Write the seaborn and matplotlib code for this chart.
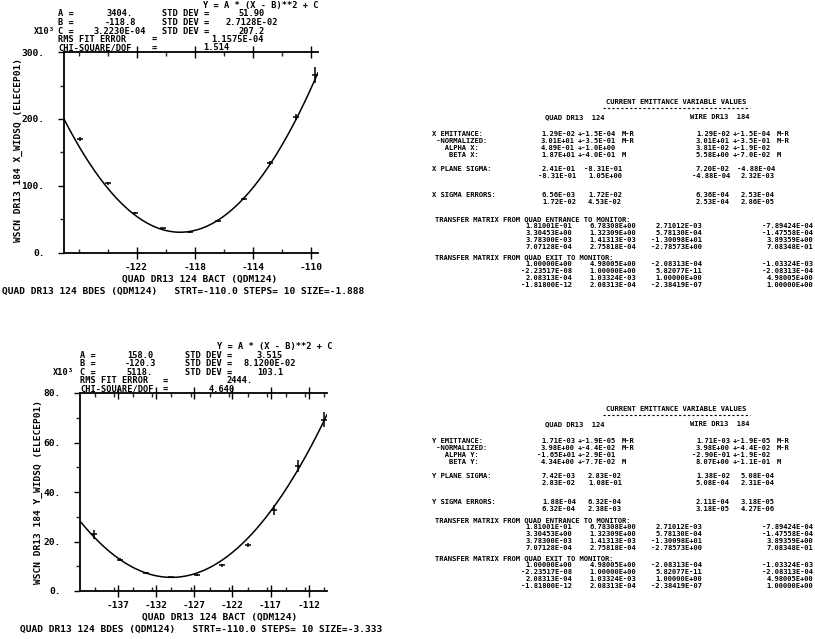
import numpy as np
import pandas as pd
import matplotlib
matplotlib.use("Agg")
import matplotlib.pyplot as plt
import seaborn as sns
from matplotlib.lines import Line2D
from matplotlib.ticker import FixedLocator, FixedFormatter, MultipleLocator

sns.set_style("white")
MONO = ['DejaVu Sans Mono', 'DejaVu Sans']
plt.rcParams['font.family'] = MONO

W, H = 815, 639

# ---------------- data ----------------
X_BACT = [-125.9, -124.0, -122.1, -120.2, -118.3, -116.4, -114.6, -112.8, -111.0, -109.7]
X_WIDSQ = [170, 104, 60, 37, 31, 48, 81, 134, 203, 265]
X_ERR = [3, 2, 1.5, 1, 1, 1.5, 2, 3, 5, 12]
X_FIT_A, X_FIT_B, X_FIT_C = 2.64, -119.0, 31.0
X_XTICKS = [-122, -118, -114, -110]
X_YTICKS = [0, 100, 200, 300]
X_YTICKLABELS = ["0.", "100.", "200.", "300."]

Y_BACT = [-140.2, -136.8, -133.4, -130.1, -126.7, -123.4, -120.0, -116.6, -113.4, -110.0]
Y_WIDSQ = [23.0, 12.7, 7.4, 5.5, 6.6, 10.4, 18.5, 32.7, 50.5, 69.2]
Y_ERR = [1.8, 0.6, 0.4, 0.3, 0.4, 0.6, 0.8, 2.0, 2.5, 3.0]
Y_FIT_A, Y_FIT_B, Y_FIT_C = 0.158, -130.0, 5.5
Y_XTICKS = [-137, -132, -127, -122, -117, -112]
Y_YTICKS = [0, 20, 40, 60, 80]
Y_YTICKLABELS = ["0.", "20.", "40.", "60.", "80."]

X_HEADER = [("A =", "3404.", "51.90"), ("B =", "-118.8", "2.7128E-02"), ("C =", "3.2230E-04", "207.2")]
X_RMS, X_CHI = "1.1575E-04", "1.514"
Y_HEADER = [("A =", "158.0", "3.515"), ("B =", "-120.3", "8.1200E-02"), ("C =", "5118.", "103.1")]
Y_RMS, Y_CHI = "2444.", "4.640"

X_EMIT_LABELS = ["X EMITTANCE:", " -NORMALIZED:", "   ALPHA X:", "    BETA X:"]
X_EMIT_QUAD = [("1.29E-02", "+-1.5E-04", "M-R"), ("3.01E+01", "+-3.5E-01", "M-R"),
               ("4.89E-01", "+-1.0E+00", ""), ("1.87E+01", "+-4.0E-01", "M")]
X_EMIT_WIRE = [("1.29E-02", "+-1.5E-04", "M-R"), ("3.01E+01", "+-3.5E-01", "M-R"),
               ("3.81E-02", "+-1.9E-02", ""), ("5.58E+00", "+-7.0E-02", "M")]
X_SIGMA_QUAD = [("2.41E-01", "-8.31E-01"), ("-8.31E-01", "1.05E+00")]
X_SIGMA_WIRE = [("7.20E-02", "-4.88E-04"), ("-4.88E-04", "2.32E-03")]
X_SERR_QUAD = [("6.56E-03", "1.72E-02"), ("1.72E-02", "4.53E-02")]
X_SERR_WIRE = [("6.36E-04", "2.53E-04"), ("2.53E-04", "2.86E-05")]

Y_EMIT_LABELS = ["Y EMITTANCE:", " -NORMALIZED:", "   ALPHA Y:", "    BETA Y:"]
Y_EMIT_QUAD = [("1.71E-03", "+-1.9E-05", "M-R"), ("3.98E+00", "+-4.4E-02", "M-R"),
               ("-1.65E+01", "+-2.9E-01", ""), ("4.34E+00", "+-7.7E-02", "M")]
Y_EMIT_WIRE = [("1.71E-03", "+-1.9E-05", "M-R"), ("3.98E+00", "+-4.4E-02", "M-R"),
               ("-2.90E-01", "+-1.9E-02", ""), ("8.07E+00", "+-1.1E-01", "M")]
Y_SIGMA_QUAD = [("7.42E-03", "2.83E-02"), ("2.83E-02", "1.08E-01")]
Y_SIGMA_WIRE = [("1.38E-02", "5.08E-04"), ("5.08E-04", "2.31E-04")]
Y_SERR_QUAD = [("1.88E-04", "6.32E-04"), ("6.32E-04", "2.38E-03")]
Y_SERR_WIRE = [("2.11E-04", "3.18E-05"), ("3.18E-05", "4.27E-06")]

TM_ENTRANCE = [["1.81001E-01", "6.78308E+00", "2.71012E-03", "-7.89424E-04"],
               ["3.30453E+00", "1.32309E+00", "5.78130E-04", "-1.47558E-04"],
               ["3.78300E-03", "1.41313E-03", "-1.30098E+01", "3.89359E+00"],
               ["7.07128E-04", "2.75818E-04", "-2.78573E+00", "7.08348E-01"]]
TM_EXIT = [["1.00000E+00", "4.98005E+00", "-2.08313E-04", "-1.03324E-03"],
           ["-2.23517E-08", "1.00000E+00", "5.82077E-11", "-2.08313E-04"],
           ["2.08313E-04", "1.03324E-03", "1.00000E+00", "4.98005E+00"],
           ["-1.81800E-12", "2.08313E-04", "-2.38419E-07", "1.00000E+00"]]

# ---------------- figure ----------------
fig = plt.figure(figsize=(W / 100, H / 100), dpi=100)
fig.patch.set_facecolor("white")
WT = "bold"


def T(x, y, s, size=6.2, ha="left", **kw):
    if s == "":
        return
    fig.text(x / W, 1 - y / H, s, fontsize=size, ha=ha, va="center",
             family=MONO, color="black", weight=WT, **kw)


def add_ax(l, t, r, b):
    return fig.add_axes([l / W, 1 - b / H, (r - l) / W, (b - t) / H])


def scan_plot(ax, xs, ys, errs, A, B, C, xlim, ylim, xticks, yticks, yticklabels, yminor, xminor):
    grid = np.linspace(xlim[0], xlim[1], 300)
    df_fit = pd.DataFrame({"bact": grid, "fit": A * (grid - B) ** 2 + C})
    sns.lineplot(data=df_fit, x="bact", y="fit", ax=ax, color="black", lw=1.1)
    df = pd.DataFrame({"bact": xs, "wid": ys, "err": errs})
    ax.errorbar(df["bact"], df["wid"], yerr=df["err"], fmt="none", ecolor="black",
                elinewidth=1.1, capsize=0, clip_on=False)
    sns.scatterplot(data=df, x="bact", y="wid", ax=ax, marker="_", s=14,
                    color="black", linewidth=1.1, clip_on=False)
    ax.set_xlim(*xlim)
    ax.set_ylim(*ylim)
    ax.xaxis.set_major_locator(FixedLocator(xticks))
    ax.xaxis.set_major_formatter(FixedFormatter([str(v) for v in xticks]))
    ax.xaxis.set_minor_locator(MultipleLocator(xminor))
    ax.yaxis.set_major_locator(FixedLocator(yticks))
    ax.yaxis.set_major_formatter(FixedFormatter(yticklabels))
    ax.yaxis.set_minor_locator(MultipleLocator(yminor))
    ax.set_xlabel("")
    ax.set_ylabel("")
    for s in ["left", "bottom", "top"]:
        ax.spines[s].set_visible(True)
        ax.spines[s].set_color("black")
        ax.spines[s].set_linewidth(1.3)
    ax.spines["right"].set_visible(False)
    ax.tick_params(axis="x", which="major", direction="inout", length=8, width=1,
                   top=True, bottom=True, labelsize=6.8, pad=3, colors="black")
    ax.tick_params(axis="x", which="minor", direction="in", length=3, width=1,
                   top=True, bottom=True)
    ax.tick_params(axis="y", which="major", direction="out", length=4, width=1,
                   left=True, labelsize=6.8, pad=10, colors="black")
    ax.tick_params(axis="y", which="minor", direction="out", length=3, width=1, left=True)
    for lab in ax.get_xticklabels() + ax.get_yticklabels():
        lab.set_family(MONO)
        lab.set_weight(WT)
    ax.set_facecolor("white")


# top plot
ax1 = add_ax(64, 52, 318, 253)
scan_plot(ax1, X_BACT, X_WIDSQ, X_ERR, X_FIT_A, X_FIT_B, X_FIT_C, (-127.0, -109.5), (0, 300),
          X_XTICKS, X_YTICKS, X_YTICKLABELS, 50, 2)
# bottom plot
ax2 = add_ax(80, 393, 327, 591)
scan_plot(ax2, Y_BACT, Y_WIDSQ, Y_ERR, Y_FIT_A, Y_FIT_B, Y_FIT_C, (-142.0, -109.6), (0, 80),
          Y_XTICKS, Y_YTICKS, Y_YTICKLABELS, 10, 2.5)


def plot_header(y0, xy, xa, xval, xsd, xsdv, xeq, xrms, xchi, header, rms, chi, x10x):
    p = 8.5
    T(xy, y0, "Y = A * (X - B)**2 + C")
    for i, (lab, val, sd) in enumerate(header):
        yy = y0 + p * (i + 1)
        T(xa, yy, lab)
        T(xval, yy, val, ha="center")
        T(xsd, yy, "STD DEV =")
        T(xsdv, yy, sd, ha="center")
    T(x10x, y0 + 3 * p, "X10\u00b3", ha="right")
    T(xa, y0 + 4 * p, "RMS FIT ERROR")
    T(xeq, y0 + 4 * p, "=")
    T(xrms, y0 + 4 * p, rms, ha="center")
    T(xa, y0 + 5 * p, "CHI-SQUARE/DOF")
    T(xeq, y0 + 5 * p, "=")
    T(xchi, y0 + 5 * p, chi, ha="center")


plot_header(5.5, 203, 58, 120, 162, 252, 152, 238, 216, X_HEADER, X_RMS, X_CHI, 55)
plot_header(347, 217, 80, 140, 185, 270, 163, 240, 222, Y_HEADER, Y_RMS, Y_CHI, 74)

# axis titles
T(18, 150, "WSCN DR13 184 X_WIDSQ (ELECEP01)", size=6.8, ha="center", rotation=90)
T(38, 492, "WSCN DR13 184 Y_WIDSQ (ELECEP01)", size=6.8, ha="center", rotation=90)
T(200, 279, "QUAD DR13 124 BACT (QDM124)", size=6.8, ha="center")
T(220, 617, "QUAD DR13 124 BACT (QDM124)", size=6.8, ha="center")
T(2, 291, "QUAD DR13 124 BDES (QDM124)   STRT=-110.0 STEPS= 10 SIZE=-1.888", size=6.8)
T(20, 629, "QUAD DR13 124 BDES (QDM124)   STRT=-110.0 STEPS= 10 SIZE=-3.333", size=6.8)

# ---------------- tables ----------------
TS = 5.1
P = 7.0


def table(y0, emit_labels, eq, ew, plane, sq, sw, eq2, ew2, tm_y):
    T(676, y0, "CURRENT EMITTANCE VARIABLE VALUES", size=TS, ha="center")
    fig.add_artist(Line2D([603 / W, 750 / W], [1 - (y0 + 5.5) / H] * 2, color="black",
                          lw=0.8, ls=(0, (2, 2))))
    T(545, y0 + 15, "QUAD DR13  124", size=TS)
    T(690, y0 + 15, "WIRE DR13  184", size=TS)
    for i in range(4):
        yy = y0 + 32 + i * P
        T(432, yy, emit_labels[i], size=TS)
        a, b, u = eq[i]
        T(575, yy, a, size=TS, ha="right")
        T(578, yy, b, size=TS)
        T(622, yy, u, size=TS)
        a, b, u = ew[i]
        T(730, yy, a, size=TS, ha="right")
        T(733, yy, b, size=TS)
        T(777, yy, u, size=TS)
    for k, (lab, q, w) in enumerate([(plane + " PLANE SIGMA:", sq, sw),
                                     (plane + " SIGMA ERRORS:", eq2, ew2)]):
        yb = y0 + 67 + k * 26
        T(432, yb, lab, size=TS)
        for r in range(2):
            yy = yb + r * P
            T(576, yy, q[r][0], size=TS, ha="right")
            T(622, yy, q[r][1], size=TS, ha="right")
            T(730, yy, w[r][0], size=TS, ha="right")
            T(775, yy, w[r][1], size=TS, ha="right")
    for k, (lab, mat) in enumerate([("TRANSFER MATRIX FROM QUAD ENTRANCE TO MONITOR:", TM_ENTRANCE),
                                    ("TRANSFER MATRIX FROM QUAD EXIT TO MONITOR:", TM_EXIT)]):
        yb = tm_y[k]
        T(435, yb, lab, size=TS)
        for r in range(4):
            yy = yb + 7 + r * P
            for c, xr in enumerate([572, 636, 702, 813]):
                T(xr, yy, mat[r][c], size=TS, ha="right")


table(102, X_EMIT_LABELS, X_EMIT_QUAD, X_EMIT_WIRE, "X", X_SIGMA_QUAD, X_SIGMA_WIRE,
      X_SERR_QUAD, X_SERR_WIRE, (219, 257))
table(409, Y_EMIT_LABELS, Y_EMIT_QUAD, Y_EMIT_WIRE, "Y", Y_SIGMA_QUAD, Y_SIGMA_WIRE,
      Y_SERR_QUAD, Y_SERR_WIRE, (520, 558))

fig.savefig("out.png", dpi=100, facecolor="white")
